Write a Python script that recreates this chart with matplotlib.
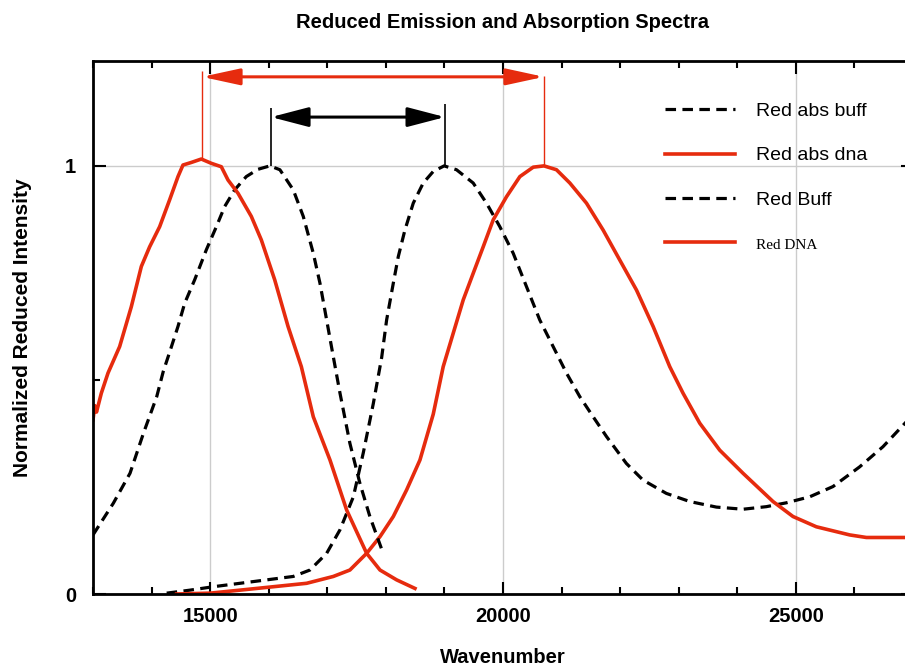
import matplotlib
matplotlib.use("Agg")
from matplotlib import pyplot as plt
from matplotlib.ticker import MultipleLocator

# absorption, buffer (black dashed)
abs_buff_x = [14258, 14656, 15054, 15509, 15964, 16419, 16704, 16989, 17217, 17445,
              17615, 17786, 17928, 18013, 18127, 18212, 18325, 18468, 18638, 18809,
              18995, 19206, 19491, 19718, 19946, 20174, 20401, 20628, 20856, 21084,
              21311, 21539, 21766, 22106, 22391, 22789, 23188, 23643, 24098, 24496,
              24837, 25236, 25634, 26089, 26487, 26864, 27000]
abs_buff_y = [0.002, 0.009, 0.017, 0.025, 0.033, 0.041, 0.056, 0.095, 0.150, 0.227,
              0.330, 0.445, 0.552, 0.640, 0.726, 0.788, 0.850, 0.913, 0.960, 0.987,
              1.000, 0.991, 0.960, 0.913, 0.858, 0.796, 0.718, 0.640, 0.578, 0.516,
              0.461, 0.414, 0.368, 0.305, 0.266, 0.235, 0.216, 0.203, 0.198, 0.204,
              0.213, 0.227, 0.251, 0.297, 0.344, 0.399, 0.420]

# absorption, dna (red solid)
abs_dna_x = [14428, 15000, 15509, 16078, 16647, 17103, 17386, 17672, 17900, 18127,
             18354, 18582, 18809, 18979, 19150, 19321, 19491, 19662, 19833, 20060,
             20288, 20516, 20700, 20913, 21141, 21425, 21710, 21994, 22279, 22563,
             22847, 23074, 23359, 23700, 24098, 24610, 24951, 25350, 25919, 26204, 27000]
abs_dna_y = [0.000, 0.002, 0.009, 0.017, 0.025, 0.041, 0.056, 0.095, 0.134, 0.181,
             0.243, 0.313, 0.420, 0.531, 0.609, 0.687, 0.749, 0.811, 0.874, 0.928,
             0.975, 0.997, 1.000, 0.991, 0.960, 0.913, 0.850, 0.780, 0.710, 0.625,
             0.531, 0.469, 0.399, 0.336, 0.282, 0.216, 0.181, 0.157, 0.138, 0.132, 0.132]

# emission, buffer (black dashed)
buff_x = [13000, 13347, 13632, 13860, 14088, 14200, 14309, 14451, 14565, 14736,
          14935, 15106, 15248, 15419, 15617, 15816, 16020, 16191, 16419, 16590,
          16761, 16875, 16989, 17103, 17217, 17386, 17556, 17727, 17954]
buff_y = [0.138, 0.212, 0.282, 0.375, 0.461, 0.520, 0.565, 0.625, 0.679, 0.734,
          0.804, 0.858, 0.905, 0.944, 0.975, 0.992, 1.000, 0.991, 0.944, 0.882,
          0.796, 0.726, 0.640, 0.554, 0.469, 0.352, 0.259, 0.181, 0.095]

# emission, dna (red solid)
dna_x = [13000, 13030, 13060, 13142, 13256, 13455, 13654, 13825, 13967, 14138,
         14309, 14451, 14536, 14678, 14849, 15020, 15191, 15305, 15476, 15703,
         15874, 16102, 16330, 16557, 16761, 17046, 17331, 17672, 17900, 18184, 18497]
dna_y = [0.407, 0.440, 0.425, 0.469, 0.516, 0.578, 0.671, 0.765, 0.811, 0.858,
         0.921, 0.975, 1.002, 1.008, 1.016, 1.006, 0.998, 0.967, 0.936, 0.882,
         0.827, 0.734, 0.625, 0.531, 0.414, 0.313, 0.196, 0.095, 0.056, 0.033, 0.013]

# peak markers for the two shift arrows
red_peaks = [14860, 20700]
red_tops = [1.222, 1.210]
red_bottoms = [1.016, 1.0]
red_arrow_y = 1.208
black_peaks = [16040, 19010]
black_tops = [1.136, 1.145]
black_arrow_y = 1.114

red = "#e62b0e"
plt.rcParams["font.family"] = "Liberation Sans"

fig = plt.figure(figsize=(9.05, 6.67), dpi=100)
ax = fig.add_axes([93 / 905, 73 / 667, 820 / 905, 533 / 667])

dash = (0, (3.3, 2.0))
ax.plot(abs_buff_x, abs_buff_y, color="black", lw=2.3, ls=dash, label="Red abs buff")
ax.plot(abs_dna_x, abs_dna_y, color=red, lw=2.6, label="Red abs dna")
ax.plot(buff_x, buff_y, color="black", lw=2.3, ls=dash, label="Red Buff")
ax.plot(dna_x, dna_y, color=red, lw=2.6, label="Red DNA")

ax.vlines(red_peaks, red_bottoms, red_tops, color=red, lw=1.0)
ax.vlines(black_peaks, [1.0, 1.0], black_tops, color="black", lw=1.2)
ax.annotate("", xy=(red_peaks[0], red_arrow_y), xytext=(red_peaks[1], red_arrow_y),
            arrowprops=dict(arrowstyle="<|-|>,head_length=2.3,head_width=0.5",
                            color=red, lw=2.2, shrinkA=0, shrinkB=0, mutation_scale=10))
ax.annotate("", xy=(black_peaks[0], black_arrow_y), xytext=(black_peaks[1], black_arrow_y),
            arrowprops=dict(arrowstyle="<|-|>,head_length=2.3,head_width=0.6",
                            color="black", lw=2.2, shrinkA=0, shrinkB=0, mutation_scale=10))

ax.set_xlim(13000, 27000)
ax.set_ylim(0, 1.245)
ax.xaxis.set_major_locator(MultipleLocator(5000))
ax.xaxis.set_minor_locator(MultipleLocator(1000))
ax.yaxis.set_major_locator(MultipleLocator(1))
ax.yaxis.set_minor_locator(MultipleLocator(0.5))
ax.grid(True, which="major", color="#cccccc", lw=1)
ax.set_axisbelow(True)
ax.tick_params(which="both", direction="in", top=True, right=True, width=1.5)
ax.tick_params(which="major", length=9, labelsize=14.5)
ax.tick_params(axis="x", which="major", pad=9)
ax.tick_params(axis="y", which="major", pad=12)
ax.tick_params(which="minor", length=5)
for lab in ax.get_xticklabels() + ax.get_yticklabels():
    lab.set_fontweight("bold")
for s in ax.spines.values():
    s.set_linewidth(2)

ax.set_title("Reduced Emission and Absorption Spectra", fontsize=14.5,
             fontweight="bold", pad=24)
ax.set_xlabel("Wavenumber", fontsize=14.5, fontweight="bold", labelpad=16)
ax.set_ylabel("Normalized Reduced Intensity", fontsize=15, fontweight="bold", labelpad=24)

leg = ax.legend(loc="upper left", bbox_to_anchor=(0.6976, 0.922), frameon=False,
                fontsize=14, handlelength=3.6, handletextpad=1.1, labelspacing=1.37,
                borderpad=0, borderaxespad=0)
last = leg.get_texts()[3]
last.set_family("Liberation Serif")
last.set_fontsize(11)

fig.savefig("out.png", dpi=100)
